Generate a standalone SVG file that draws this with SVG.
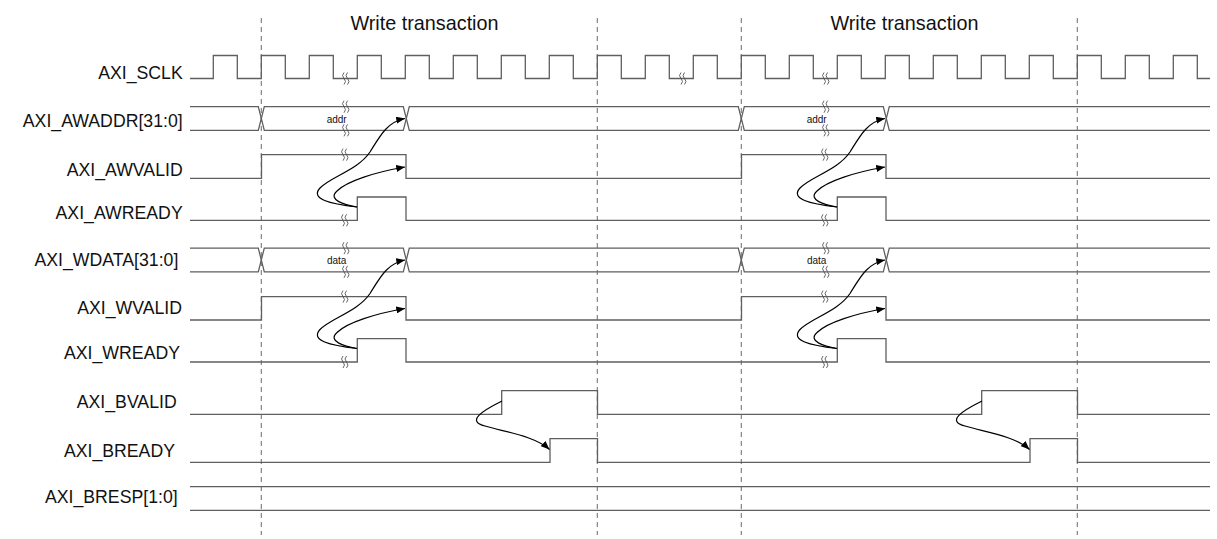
<svg xmlns="http://www.w3.org/2000/svg" xmlns:xlink="http://www.w3.org/1999/xlink" width="1217" height="539" viewBox="0 0 1217 539">
<style>
  .sig{fill:none;stroke:#5f5f5f;stroke-width:1.3}
  .grid{fill:none;stroke:#777;stroke-width:1.1;stroke-dasharray:5 4}
  .arr{fill:none;stroke:#000;stroke-width:1.2;marker-end:url(#ah)}
  .brk{fill:none;stroke:#555;stroke-width:0.9}
  .lbl{font-family:"Liberation Sans",Arial,sans-serif;font-size:17.7px;fill:#111;text-anchor:end}
  .ttl{font-family:"Liberation Sans",Arial,sans-serif;font-size:19.8px;fill:#111;text-anchor:middle}
  .val{font-family:"Liberation Sans",Arial,sans-serif;font-size:10px;fill:#111;text-anchor:middle}
</style>
<defs>
  <marker id="ah" viewBox="0 0 10 8" refX="10" refY="4" markerWidth="9" markerHeight="7" markerUnits="userSpaceOnUse" orient="auto">
    <path d="M0,0 L10,4 L0,8 z" fill="#000"/>
  </marker>
  <g id="bk">
    <path class="brk" d="M-1,-6 q-3,3 0,6 t0,6"/>
    <path class="brk" d="M2.5,-6 q-3,3 0,6 t0,6"/>
  </g>
</defs>
<rect width="1217" height="539" fill="#fff"/>

<g id="grid">
  <line class="grid" x1="261.3" y1="18" x2="261.3" y2="535"/>
  <line class="grid" x1="597.3" y1="18" x2="597.3" y2="535"/>
  <line class="grid" x1="741.3" y1="18" x2="741.3" y2="535"/>
  <line class="grid" x1="1077.3" y1="18" x2="1077.3" y2="535"/>
</g>

<g id="titles">
  <text class="ttl" x="424.5" y="29.5">Write transaction</text>
  <text class="ttl" x="904.5" y="29.5">Write transaction</text>
</g>

<g id="AXI_SCLK">
  <text class="lbl" x="182.7" y="79.3">AXI_SCLK</text>
  <path class="sig" d="M190,78.5 H213.3 V55.5 H237.3 V78.5 H261.3 V55.5 H285.3 V78.5 H309.3 V55.5 H333.3 V78.5 H357.3 V55.5 H381.3 V78.5 H405.3 V55.5 H429.3 V78.5 H453.3 V55.5 H477.3 V78.5 H501.3 V55.5 H525.3 V78.5 H549.3 V55.5 H573.3 V78.5 H597.3 V55.5 H621.3 V78.5 H645.3 V55.5 H669.3 V78.5 H693.3 V55.5 H717.3 V78.5 H741.3 V55.5 H765.3 V78.5 H789.3 V55.5 H813.3 V78.5 H837.3 V55.5 H861.3 V78.5 H885.3 V55.5 H909.3 V78.5 H933.3 V55.5 H957.3 V78.5 H981.3 V55.5 H1005.3 V78.5 H1029.3 V55.5 H1053.3 V78.5 H1077.3 V55.5 H1101.3 V78.5 H1125.3 V55.5 H1149.3 V78.5 H1173.3 V55.5 H1197.3 V78.5 H1210"/>
  <use xlink:href="#bk" href="#bk" x="345" y="78.5"/>
  <use xlink:href="#bk" href="#bk" x="682" y="78.5"/>
  <use xlink:href="#bk" href="#bk" x="825" y="78.5"/>
</g>

<g id="AXI_AWADDR">
  <text class="lbl" x="182.7" y="126.7">AXI_AWADDR[31:0]</text>
  <path class="sig" d="M190,106.7 H258.3 L264.3,130.3 H403.3 L409.3,106.7 H738.3 L744.3,130.3 H883.3 L889.3,106.7 H1210"/>
  <path class="sig" d="M190,130.3 H258.3 L264.3,106.7 H403.3 L409.3,130.3 H738.3 L744.3,106.7 H883.3 L889.3,130.3 H1210"/>
  <text class="val" x="336.7" y="122.5">addr</text>
  <text class="val" x="816.7" y="122.5">addr</text>
  <use xlink:href="#bk" href="#bk" x="345" y="106.7"/>
  <use xlink:href="#bk" href="#bk" x="345" y="130.3"/>
  <use xlink:href="#bk" href="#bk" x="825" y="106.7"/>
  <use xlink:href="#bk" href="#bk" x="825" y="130.3"/>
</g>

<g id="AXI_AWVALID">
  <text class="lbl" x="182.7" y="176">AXI_AWVALID</text>
  <path class="sig" d="M190,178.3 H261.5 V154.7 H406 V178.3 H741.5 V154.7 H886 V178.3 H1210"/>
  <use xlink:href="#bk" href="#bk" x="344" y="154.7"/>
  <use xlink:href="#bk" href="#bk" x="824" y="154.7"/>
</g>

<g id="AXI_AWREADY">
  <text class="lbl" x="182.7" y="219">AXI_AWREADY</text>
  <path class="sig" d="M190,220.3 H357.3 V197 H406 V220.3 H837.3 V197 H886 V220.3 H1210"/>
  <use xlink:href="#bk" href="#bk" x="344" y="220.3"/>
  <use xlink:href="#bk" href="#bk" x="824" y="220.3"/>
</g>

<g id="AXI_WDATA">
  <text class="lbl" x="178.3" y="266">AXI_WDATA[31:0]</text>
  <path class="sig" d="M190,248.2 H258.3 L264.3,271.8 H403.3 L409.3,248.2 H738.3 L744.3,271.8 H883.3 L889.3,248.2 H1210"/>
  <path class="sig" d="M190,271.8 H258.3 L264.3,248.2 H403.3 L409.3,271.8 H738.3 L744.3,248.2 H883.3 L889.3,271.8 H1210"/>
  <text class="val" x="336.7" y="263.5">data</text>
  <text class="val" x="816.7" y="263.5">data</text>
  <use xlink:href="#bk" href="#bk" x="345" y="248.2"/>
  <use xlink:href="#bk" href="#bk" x="345" y="271.8"/>
  <use xlink:href="#bk" href="#bk" x="825" y="248.2"/>
  <use xlink:href="#bk" href="#bk" x="825" y="271.8"/>
</g>

<g id="AXI_WVALID">
  <text class="lbl" x="182" y="314">AXI_WVALID</text>
  <path class="sig" d="M190,320 H261.5 V296.6 H406 V320 H741.5 V296.6 H886 V320 H1210"/>
  <use xlink:href="#bk" href="#bk" x="344" y="296.6"/>
  <use xlink:href="#bk" href="#bk" x="824" y="296.6"/>
</g>

<g id="AXI_WREADY">
  <text class="lbl" x="180" y="359">AXI_WREADY</text>
  <path class="sig" d="M190,362 H357.3 V338.6 H406 V362 H837.3 V338.6 H886 V362 H1210"/>
  <use xlink:href="#bk" href="#bk" x="344" y="362"/>
  <use xlink:href="#bk" href="#bk" x="824" y="362"/>
</g>

<g id="AXI_BVALID">
  <text class="lbl" x="176.7" y="408.3">AXI_BVALID</text>
  <path class="sig" d="M190,414.3 H501.7 V390.7 H597.5 V414.3 H981.7 V390.7 H1077.5 V414.3 H1210"/>
</g>

<g id="AXI_BREADY">
  <text class="lbl" x="175" y="456.7">AXI_BREADY</text>
  <path class="sig" d="M190,462.3 H550 V438.7 H597.5 V462.3 H1030 V438.7 H1077.5 V462.3 H1210"/>
</g>

<g id="AXI_BRESP">
  <text class="lbl" x="177.7" y="503.3">AXI_BRESP[1:0]</text>
  <path class="sig" d="M190,486.7 H1210 M190,510.3 H1210"/>
</g>

<g id="connectors">
  <path class="arr" d="M357,207 C330,204 310,199 320,188 C330,177 358,170 370,152 C380,136 387,122 405,118.5"/>
  <path class="arr" d="M357,207 C345,205 327,200 337,191 C347,181 376,172 405,167"/>
  <path class="arr" d="M837,207 C810,204 790,199 800,188 C810,177 838,170 850,152 C860,136 867,122 885,118.5"/>
  <path class="arr" d="M837,207 C825,205 807,200 817,191 C827,181 856,172 885,167"/>
  <path class="arr" d="M357,348.5 C330,345.5 310,340.5 320,329.5 C330,318.5 358,311.5 370,293.5 C380,277.5 387,263.5 405,260"/>
  <path class="arr" d="M357,348.5 C345,346.5 327,341.5 337,332.5 C347,322.5 376,313.5 405,308.5"/>
  <path class="arr" d="M837,348.5 C810,345.5 790,340.5 800,329.5 C810,318.5 838,311.5 850,293.5 C860,277.5 867,263.5 885,260"/>
  <path class="arr" d="M837,348.5 C825,346.5 807,341.5 817,332.5 C827,322.5 856,313.5 885,308.5"/>
  <path class="arr" d="M502,401 C482,411 466,421 485,426 C505,432 535,436 549.5,449.5"/>
  <path class="arr" d="M982,401 C962,411 946,421 965,426 C985,432 1015,436 1029.5,449.5"/>
</g>
</svg>
